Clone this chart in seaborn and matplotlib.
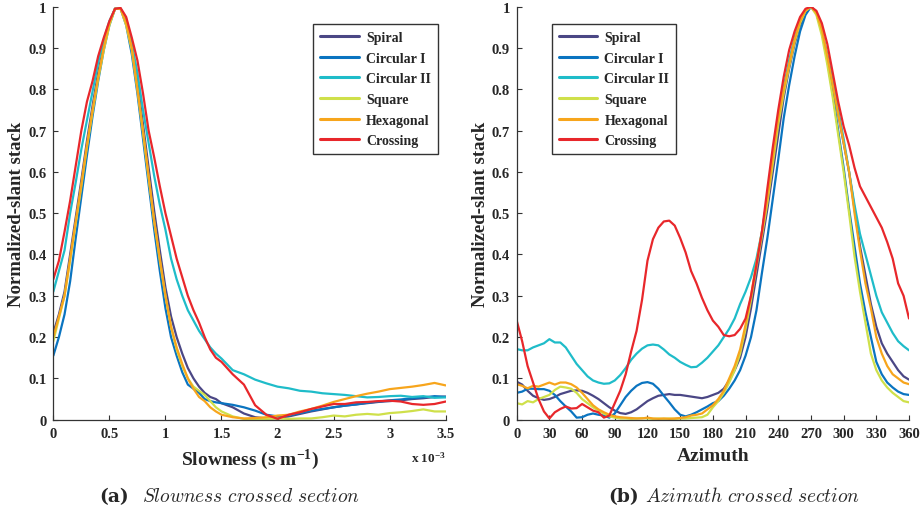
import numpy as np
import pandas as pd
import matplotlib
matplotlib.use("Agg")
import matplotlib.pyplot as plt
from matplotlib.ticker import FuncFormatter, MultipleLocator
import seaborn as sns

# ---------------- data ----------------
series = ["Spiral", "Circular I", "Circular II", "Square", "Hexagonal", "Crossing"]
colors = ["#4b4785", "#0a74c0", "#1fbcc9", "#cfe04a", "#f7a51c", "#e8272b"]

# slowness grid (units of 1e-3 s/m)
slowness = list(np.round(np.arange(0, 1.501, 0.05), 2)) + list(np.round(np.arange(1.6, 3.501, 0.1), 2))

slow_spiral = [0.21, 0.255, 0.31, 0.40, 0.49, 0.58, 0.675, 0.76, 0.84, 0.905, 0.96, 0.995, 0.995, 0.965, 0.905,
               0.815, 0.715, 0.61, 0.505, 0.41, 0.32, 0.25, 0.20, 0.16, 0.125, 0.10, 0.08, 0.065, 0.055, 0.05, 0.04,
               0.03, 0.015, 0.006, 0.003, 0.004, 0.008, 0.014, 0.02, 0.025, 0.03, 0.034, 0.037, 0.04, 0.043, 0.045,
               0.047, 0.05, 0.052, 0.055, 0.056]
slow_circ1 = [0.155, 0.20, 0.255, 0.335, 0.44, 0.54, 0.64, 0.735, 0.82, 0.895, 0.955, 0.995, 0.995, 0.955, 0.885,
              0.79, 0.68, 0.57, 0.46, 0.36, 0.27, 0.20, 0.155, 0.115, 0.085, 0.075, 0.065, 0.05, 0.045, 0.042, 0.04,
              0.036, 0.03, 0.022, 0.012, 0.008, 0.01, 0.016, 0.022, 0.026, 0.03, 0.034, 0.037, 0.041, 0.044, 0.047,
              0.049, 0.052, 0.054, 0.057, 0.055]
slow_circ2 = [0.31, 0.36, 0.41, 0.50, 0.575, 0.655, 0.725, 0.795, 0.865, 0.92, 0.965, 0.995, 0.995, 0.97, 0.91,
              0.84, 0.75, 0.67, 0.59, 0.52, 0.46, 0.39, 0.34, 0.30, 0.265, 0.24, 0.215, 0.195, 0.175, 0.16, 0.148,
              0.12, 0.11, 0.097, 0.088, 0.08, 0.076, 0.07, 0.068, 0.064, 0.062, 0.06, 0.057, 0.054, 0.055, 0.057,
              0.058, 0.055, 0.057, 0.053, 0.054]
slow_square = [0.19, 0.245, 0.30, 0.385, 0.475, 0.565, 0.66, 0.745, 0.825, 0.895, 0.955, 0.995, 0.995, 0.955, 0.895,
               0.80, 0.695, 0.585, 0.48, 0.385, 0.30, 0.225, 0.17, 0.13, 0.10, 0.08, 0.07, 0.06, 0.045, 0.03, 0.02,
               0.008, 0.002, 0.001, 0.002, 0.003, 0.002, 0.003, 0.003, 0.006, 0.01, 0.008, 0.012, 0.014, 0.012, 0.016,
               0.018, 0.021, 0.025, 0.02, 0.02]
slow_hexa = [0.20, 0.25, 0.30, 0.39, 0.48, 0.57, 0.665, 0.75, 0.83, 0.90, 0.96, 0.995, 0.995, 0.96, 0.90,
             0.80, 0.70, 0.59, 0.48, 0.39, 0.30, 0.225, 0.175, 0.135, 0.10, 0.075, 0.055, 0.045, 0.03, 0.02, 0.012,
             0.006, 0.003, 0.004, 0.006, 0.01, 0.012, 0.02, 0.026, 0.034, 0.043, 0.05, 0.057, 0.063, 0.068, 0.074,
             0.077, 0.08, 0.084, 0.089, 0.083]
slow_cross = [0.34, 0.385, 0.455, 0.53, 0.615, 0.70, 0.77, 0.82, 0.88, 0.925, 0.965, 0.995, 0.997, 0.975, 0.925,
              0.87, 0.79, 0.70, 0.635, 0.565, 0.50, 0.445, 0.39, 0.345, 0.30, 0.265, 0.235, 0.20, 0.17, 0.15, 0.14,
              0.11, 0.085, 0.035, 0.012, 0.002, 0.012, 0.018, 0.026, 0.032, 0.038, 0.038, 0.042, 0.043, 0.045, 0.046,
              0.044, 0.038, 0.036, 0.038, 0.044]

# azimuth grid (degrees)
azimuth = list(range(0, 361, 5))

az_spiral = [0.092, 0.085, 0.07, 0.058, 0.052, 0.048, 0.05, 0.055, 0.062, 0.066, 0.07, 0.071, 0.07, 0.065, 0.058,
             0.05, 0.04, 0.03, 0.022, 0.016, 0.014, 0.018, 0.025, 0.035, 0.045, 0.052, 0.058, 0.06, 0.062, 0.06,
             0.06, 0.058, 0.056, 0.054, 0.052, 0.055, 0.06, 0.065, 0.075, 0.095, 0.12, 0.15, 0.2, 0.27, 0.35,
             0.43, 0.51, 0.6, 0.69, 0.78, 0.85, 0.91, 0.955, 0.985, 1.0, 0.985, 0.94, 0.875, 0.81, 0.74,
             0.67, 0.6, 0.51, 0.42, 0.35, 0.28, 0.225, 0.185, 0.16, 0.14, 0.12, 0.105, 0.097]
az_circ1 = [0.065, 0.068, 0.075, 0.075, 0.074, 0.074, 0.07, 0.06, 0.045, 0.032, 0.02, 0.005, 0.006, 0.012, 0.015,
            0.012, 0.01, 0.005, 0.015, 0.035, 0.055, 0.07, 0.082, 0.089, 0.091, 0.087, 0.075, 0.058, 0.042, 0.025,
            0.012, 0.008, 0.012, 0.018, 0.025, 0.032, 0.04, 0.045, 0.058, 0.075, 0.095, 0.12, 0.155, 0.2, 0.265,
            0.355, 0.44, 0.535, 0.63, 0.73, 0.81, 0.88, 0.94, 0.98, 1.0, 0.985, 0.94, 0.87, 0.79, 0.70,
            0.61, 0.51, 0.42, 0.33, 0.26, 0.2, 0.14, 0.11, 0.09, 0.078, 0.068, 0.062, 0.06]
az_circ2 = [0.171, 0.168, 0.168, 0.175, 0.18, 0.185, 0.195, 0.187, 0.187, 0.175, 0.155, 0.135, 0.12, 0.105, 0.095,
            0.09, 0.087, 0.088, 0.095, 0.108, 0.125, 0.145, 0.16, 0.172, 0.18, 0.182, 0.18, 0.17, 0.158, 0.15,
            0.14, 0.133, 0.127, 0.128, 0.138, 0.15, 0.165, 0.18, 0.2, 0.22, 0.245, 0.28, 0.31, 0.345, 0.39,
            0.455, 0.54, 0.635, 0.725, 0.805, 0.87, 0.925, 0.965, 0.99, 1.0, 0.985, 0.94, 0.885, 0.82, 0.75,
            0.68, 0.6, 0.52, 0.45, 0.4, 0.35, 0.3, 0.26, 0.235, 0.21, 0.19, 0.178, 0.168]
az_square = [0.04, 0.037, 0.045, 0.042, 0.05, 0.055, 0.06, 0.072, 0.08, 0.078, 0.075, 0.065, 0.05, 0.04, 0.03,
             0.022, 0.015, 0.008, 0.005, 0.003, 0.003, 0.002, 0.003, 0.004, 0.003, 0.002, 0.003, 0.002, 0.003, 0.002,
             0.003, 0.003, 0.004, 0.005, 0.006, 0.012, 0.03, 0.045, 0.065, 0.09, 0.12, 0.16, 0.22, 0.29, 0.37,
             0.445, 0.525, 0.62, 0.715, 0.79, 0.855, 0.915, 0.96, 0.99, 1.0, 0.98, 0.93, 0.86, 0.78, 0.69,
             0.6, 0.5, 0.395, 0.31, 0.235, 0.16, 0.12, 0.095, 0.078, 0.065, 0.055, 0.045, 0.042]
az_hexa = [0.086, 0.082, 0.076, 0.082, 0.08, 0.085, 0.09, 0.085, 0.09, 0.09, 0.086, 0.078, 0.065, 0.05, 0.035,
           0.025, 0.018, 0.012, 0.008, 0.006, 0.005, 0.004, 0.003, 0.003, 0.005, 0.003, 0.002, 0.003, 0.002, 0.003,
           0.004, 0.006, 0.01, 0.012, 0.015, 0.025, 0.035, 0.05, 0.07, 0.1, 0.13, 0.17, 0.23, 0.3, 0.38,
           0.455, 0.535, 0.635, 0.73, 0.8, 0.86, 0.92, 0.965, 0.99, 1.0, 0.985, 0.945, 0.88, 0.81, 0.74,
           0.67, 0.6, 0.5, 0.41, 0.33, 0.27, 0.2, 0.16, 0.13, 0.11, 0.1, 0.09, 0.086]
az_cross = [0.24, 0.19, 0.13, 0.09, 0.05, 0.02, 0.003, 0.018, 0.026, 0.032, 0.027, 0.028, 0.038, 0.03, 0.022,
            0.018, 0.005, 0.01, 0.04, 0.07, 0.11, 0.165, 0.215, 0.29, 0.385, 0.437, 0.465, 0.48, 0.482, 0.47,
            0.44, 0.405, 0.36, 0.33, 0.295, 0.265, 0.24, 0.225, 0.205, 0.202, 0.205, 0.22, 0.245, 0.3, 0.375,
            0.455, 0.56, 0.66, 0.75, 0.83, 0.895, 0.94, 0.975, 0.995, 1.0, 0.99, 0.96, 0.91, 0.84, 0.77,
            0.71, 0.665, 0.61, 0.565, 0.54, 0.515, 0.49, 0.465, 0.43, 0.39, 0.33, 0.3, 0.245]

slow_vals = [slow_spiral, slow_circ1, slow_circ2, slow_square, slow_hexa, slow_cross]
az_vals = [az_spiral, az_circ1, az_circ2, az_square, az_hexa, az_cross]

df_slow = pd.concat([pd.DataFrame({"x": slowness, "y": v, "Array": s}) for s, v in zip(series, slow_vals)])
df_az = pd.concat([pd.DataFrame({"x": azimuth, "y": v, "Array": s}) for s, v in zip(series, az_vals)])

# ---------------- style ----------------
sns.set_style("ticks")
plt.rcParams["font.family"] = ["Liberation Serif", "DejaVu Serif"]
plt.rcParams["font.weight"] = "bold"
plt.rcParams["mathtext.fontset"] = "custom"
plt.rcParams["mathtext.rm"] = "Liberation Serif:bold"
plt.rcParams["mathtext.bf"] = "Liberation Serif:bold"
plt.rcParams["mathtext.it"] = "Liberation Serif:bold"
plt.rcParams["xtick.direction"] = "in"
plt.rcParams["ytick.direction"] = "in"

palette = dict(zip(series, colors))

fig = plt.figure(figsize=(9.24, 5.10), dpi=100)
ax1 = fig.add_axes([0.0577, 0.1751, 0.4247, 0.8098])
ax2 = fig.add_axes([0.5592, 0.1751, 0.4246, 0.8098])

def fmt(v, pos):
    s = f"{v:.1f}"
    if s.endswith(".0"):
        s = s[:-2]
    return s

for ax, df, xlim, xstep, leg_anchor, leg_loc in [
    (ax1, df_slow, (0, 3.5), 0.5, (0.98, 0.958), "upper right"),
    (ax2, df_az, (0, 360), 30, (0.089, 0.958), "upper left"),
]:
    sns.lineplot(data=df, x="x", y="y", hue="Array", hue_order=series, palette=palette,
                 estimator=None, linewidth=1.6, ax=ax)
    ax.set_xlim(*xlim)
    ax.set_ylim(0, 1)
    ax.xaxis.set_major_locator(MultipleLocator(xstep))
    ax.yaxis.set_major_locator(MultipleLocator(0.1))
    ax.xaxis.set_major_formatter(FuncFormatter(fmt))
    ax.yaxis.set_major_formatter(FuncFormatter(fmt))
    for sp in ["top", "right"]:
        ax.spines[sp].set_visible(False)
    for sp in ["left", "bottom"]:
        ax.spines[sp].set_color("#333333")
        ax.spines[sp].set_linewidth(0.9)
    ax.tick_params(axis="both", length=3.5, width=0.8, labelsize=10.5, pad=5, color="#333333")
    for lab in ax.get_xticklabels() + ax.get_yticklabels():
        lab.set_fontweight("bold")
    ax.set_ylabel("Normalized-slant stack", fontsize=13.5, fontweight="bold", labelpad=2)
    leg = ax.legend(loc=leg_loc, bbox_to_anchor=leg_anchor, frameon=True, fancybox=False,
                    edgecolor="black", prop={"family": "Liberation Serif", "weight": "bold", "size": 10},
                    handlelength=2.8, handletextpad=0.5, labelspacing=0.55, borderpad=0.5,
                    borderaxespad=0.0, title=None)
    leg.get_frame().set_linewidth(1.0)
    for line in leg.get_lines():
        line.set_linewidth(2.2)

ax1.set_xlabel(r"Slowness (s m$^{-1}$)", fontsize=14, fontweight="bold", labelpad=5)
ax2.set_xlabel("Azimuth", fontsize=14, fontweight="bold", labelpad=5)
ax1.text(1.0, -0.09, r"x 10$^{-3}$", transform=ax1.transAxes, ha="right", va="center",
         fontsize=9.5, fontweight="bold")

# captions
ycap = 1 - 497 / 510
fig.text(99 / 924, ycap, "(a)", ha="left", va="center", fontsize=13.5, fontweight="bold",
         family="DejaVu Serif")
fig.text(142 / 924, ycap, r"$\mathit{Slowness\ crossed\ section}$", ha="left", va="center",
         fontsize=14, math_fontfamily="cm")
fig.text(608 / 924, ycap, "(b)", ha="left", va="center", fontsize=13.5, fontweight="bold",
         family="DejaVu Serif")
fig.text(645 / 924, ycap, r"$\mathit{Azimuth\ crossed\ section}$", ha="left", va="center",
         fontsize=14, math_fontfamily="cm")

fig.savefig("out.png", dpi=100, facecolor="white")
